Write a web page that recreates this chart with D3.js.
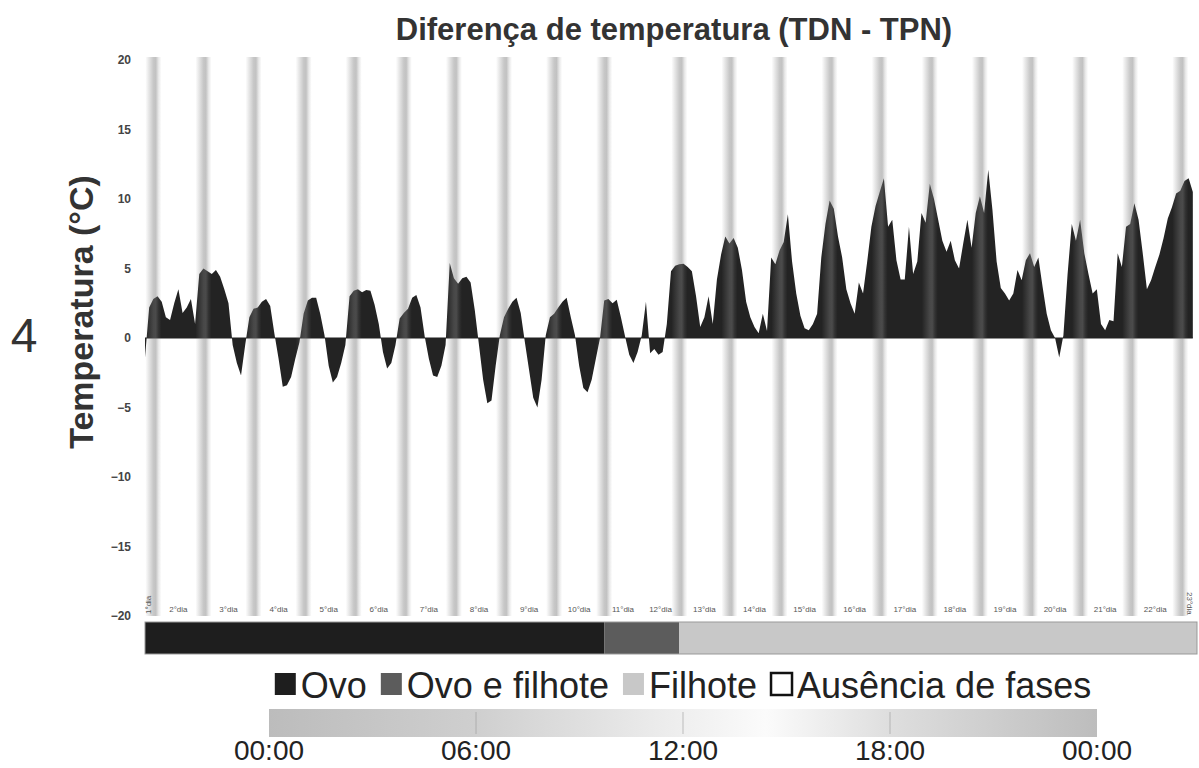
<!DOCTYPE html>
<html><head><meta charset="utf-8">
<script src="https://cdn.jsdelivr.net/npm/d3@7"></script>
<style>body{margin:0;background:#fff;} svg{display:block;font-family:"Liberation Sans",Arial,sans-serif;}</style>
</head><body><svg id="c" width="1199" height="768"></svg>
<script>
const title = "Diferença de temperatura (TDN - TPN)";
const yLabel = "Temperatura (°C)";
const panelLabel = "4";
const yTicks = [20, 15, 10, 5, 0, -5, -10, -15, -20];
const totalHours = 504;
const stepHours = 2;
// TDN - TPN (°C), one reading every 2 h from t = 0 h
const diff = [
 -1.4, 2.2, 2.8, 3.0, 2.6, 1.5, 1.3, 2.5, 3.5, 1.8, 2.2, 2.8,
  1.0, 4.6, 5.0, 4.8, 4.6, 4.9, 4.4, 3.5, 2.5, -0.5, -1.8, -2.7,
 -0.5, 1.5, 2.1, 2.2, 2.6, 2.8, 2.3, 0.3, -1.5, -3.5, -3.4, -2.8,
 -1.5, -0.3, 1.75, 2.7, 2.9, 2.9, 1.7, 0.2, -2.0, -3.2, -2.8, -1.8,
 -0.5, 3.0, 3.4, 3.5, 3.3, 3.45, 3.4, 2.4, 1.0, -1.0, -2.2, -1.8,
 -0.5, 1.4, 1.8, 2.1, 2.9, 3.1, 2.2, 0.1, -1.5, -2.7, -2.8, -2.0,
 -0.5, 5.4, 4.3, 3.9, 4.3, 4.4, 4.0, 2.0, -0.5, -3.0, -4.7, -4.5,
 -2.0, 0.2, 1.5, 2.1, 2.6, 2.9, 1.8, -0.3, -2.3, -4.3, -5.0, -3.0,
  0.2, 1.5, 1.75, 2.2, 2.6, 2.9, 1.5, 0.2, -2.0, -3.6, -3.9, -3.0,
 -1.5, 0.0, 2.7, 2.8, 2.5, 2.75, 1.5, 0.1, -1.2, -1.8, -1.0, 0.2,
  2.6, -1.1, -0.8, -1.2, -1.0, 1.0, 4.8, 5.2, 5.3, 5.35, 5.1, 4.8,
  3.0, 0.8, 1.5, 3.0, 1.0, 4.2, 6.0, 7.3, 6.8, 7.2, 6.5, 4.9,
  2.6, 1.5, 0.8, 0.35, 1.75, 0.5, 5.8, 5.3, 6.3, 6.9, 8.9, 5.5,
  3.2, 1.6, 0.7, 0.55, 1.0, 1.75, 5.8, 8.2, 9.9, 9.3, 7.3, 5.8,
  3.5, 2.5, 1.75, 4.0, 3.2, 5.5, 8.0, 9.5, 10.5, 11.5, 8.0, 8.5,
  5.6, 4.2, 4.2, 8.0, 4.6, 5.5, 9.0, 8.3, 11.1, 10.0, 8.5, 7.0,
  6.2, 7.0, 5.6, 5.0, 6.8, 8.5, 6.5, 9.0, 10.2, 9.0, 12.1, 9.2,
  5.5, 3.6, 3.2, 2.7, 3.2, 4.9, 4.15, 5.6, 6.1, 5.1, 5.8, 3.7,
  1.75, 0.55, 0.0, -1.4, 0.2, 4.6, 8.2, 7.0, 8.5, 6.1, 4.6, 3.2,
  3.5, 1.0, 0.55, 1.3, 1.2, 6.1, 5.1, 8.0, 8.2, 9.7, 8.5, 6.1,
  3.5, 4.15, 5.1, 6.0, 7.2, 8.6, 9.4, 10.4, 10.6, 11.3, 11.5, 10.5
];
// midnight marks (h)
const midnights = [4, 28, 52, 76, 100, 124, 148, 172, 196, 220, 256, 280, 304, 328, 352, 376, 400, 424, 448, 472, 496];
const dayNames = ["1°dia","2°dia","3°dia","4°dia","5°dia","6°dia","7°dia","8°dia","9°dia","10°dia","11°dia","12°dia",
  "13°dia","14°dia","15°dia","16°dia","17°dia","18°dia","19°dia","20°dia","21°dia","22°dia","23°dia"];
const dayBounds = [0, 4, 28, 52, 76, 100, 124, 148, 172, 196, 220, 238, 256, 280, 304, 328, 352, 376, 400, 424, 448, 472, 496, 504];
const phaseNames = ["Ovo", "Ovo e filhote", "Filhote"];
const phaseBounds = [0, 220, 256, 504];
const legendNames = ["Ovo", "Ovo e filhote", "Filhote", "Ausência de fases"];
const legendColors = ["#1e1e1e", "#5c5c5c", "#c8c8c8", "#ffffff"];
const timeLabels = ["00:00", "06:00", "12:00", "18:00", "00:00"];
const timeHours = [0, 6, 12, 18, 24];

const svg = d3.select("#c");
const x = d3.scaleLinear().domain([0, totalHours]).range([145, 1197]);
const y = d3.scaleLinear().domain([-20, 20]).range([616, 60]);

const defs = svg.append("defs");
const bg = defs.append("linearGradient").attr("id", "band").attr("x1", "0").attr("x2", "1").attr("y1", "0").attr("y2", "0");
[[0, 0], [0.2, 0.17], [0.5, 0.42], [0.65, 0.46], [0.82, 0.18], [1, 0]].forEach(([o, a]) =>
  bg.append("stop").attr("offset", o).attr("stop-color", "#7a7a7a").attr("stop-opacity", a));

// title
svg.append("text").attr("x", 674).attr("y", 40).attr("text-anchor", "middle")
  .attr("font-size", 31).attr("font-weight", "bold").attr("fill", "#333").text(title);
svg.append("text").attr("x", 24).attr("y", 352).attr("text-anchor", "middle")
  .attr("font-size", 48).attr("fill", "#333").text(panelLabel);
svg.append("text").attr("transform", "translate(93,312) rotate(-90)").attr("text-anchor", "middle")
  .attr("font-size", 34).attr("font-weight", "bold").attr("fill", "#333").text(yLabel);

// area
const area = d3.area().x((d, i) => x(i * stepHours)).y0(y(0)).y1(d => y(d));
svg.append("path").datum(diff).attr("d", area).attr("fill", "#232323");
svg.append("line").attr("x1", x(0)).attr("x2", x((diff.length - 1) * stepHours))
  .attr("y1", y(0)).attr("y2", y(0)).attr("stroke", "#222").attr("stroke-width", 1.2);

// night bands
svg.append("g").selectAll("rect").data(midnights).join("rect")
  .attr("x", d => x(d) - 8).attr("width", 16).attr("y", 57).attr("height", 616 - 57)
  .attr("fill", "url(#band)");

// y axis
const ya = svg.append("g").attr("transform", "translate(145,0)")
  .call(d3.axisLeft(y).tickValues(yTicks).tickSize(0).tickPadding(14));
ya.select(".domain").remove();
ya.selectAll("text").attr("font-size", 12).attr("font-weight", "bold").attr("fill", "#444")
  .attr("font-family", "'Liberation Sans',Arial,sans-serif");

// day labels
const dl = svg.append("g").attr("font-size", 8).attr("fill", "#555");
dayNames.forEach((name, i) => {
  const cx = x((dayBounds[i] + dayBounds[i + 1]) / 2);
  if (i === 0) {
    dl.append("text").attr("transform", `translate(${x(dayBounds[0]) + 6},614) rotate(-90)`).text(name);
  } else if (i === dayNames.length - 1) {
    dl.append("text").attr("transform", `translate(${x(dayBounds[i + 1]) - 10},592) rotate(90)`).text(name);
  } else {
    dl.append("text").attr("x", cx).attr("y", 612).attr("text-anchor", "middle").text(name);
  }
});

// phase bar
const pc = ["#1e1e1e", "#5c5c5c", "#c8c8c8"];
svg.append("g").selectAll("rect").data(phaseNames).join("rect")
  .attr("x", (d, i) => x(phaseBounds[i])).attr("width", (d, i) => x(phaseBounds[i + 1]) - x(phaseBounds[i]))
  .attr("y", 622).attr("height", 32).attr("fill", (d, i) => pc[i]);
svg.append("rect").attr("x", x(0)).attr("y", 622).attr("width", x(totalHours) - x(0)).attr("height", 32)
  .attr("fill", "none").attr("stroke", "#999").attr("stroke-width", 1);

// legend
const lg = svg.append("g").attr("font-size", 36).attr("fill", "#222");
let cursor = 0;
legendNames.forEach((name, i) => {
  const g = lg.append("g");
  g.append("rect").attr("x", cursor).attr("y", 673).attr("width", 21).attr("height", 22)
    .attr("fill", legendColors[i]).attr("stroke", i === 3 ? "#111" : "none").attr("stroke-width", 2.5);
  const t = g.append("text").attr("x", cursor + 26).attr("y", 698).text(name);
  cursor += 26 + t.node().getComputedTextLength() + 14;
});
const total = cursor - 14;
lg.attr("transform", `translate(${683 - total / 2},0)`);

// time gradient
const tx = d3.scaleLinear().domain([0, 24]).range([269, 1097]);
const tg = defs.append("linearGradient").attr("id", "tg");
[[0, "#bcbcbc"], [0.25, "#cfcfcf"], [0.5, "#efefef"], [0.6, "#fbfbfb"], [0.75, "#dedede"], [1, "#bdbdbd"]]
  .forEach(([o, c]) => tg.append("stop").attr("offset", o).attr("stop-color", c));
svg.append("rect").attr("x", tx(0)).attr("y", 709).attr("width", tx(24) - tx(0)).attr("height", 28).attr("fill", "url(#tg)");
svg.append("g").selectAll("line").data([6, 12, 18]).join("line")
  .attr("x1", d => tx(d)).attr("x2", d => tx(d)).attr("y1", 712).attr("y2", 734)
  .attr("stroke", "#9a9a9a").attr("stroke-width", 1).attr("opacity", 0.6);
svg.append("g").selectAll("text").data(timeLabels).join("text")
  .attr("x", (d, i) => tx(timeHours[i])).attr("y", 760).attr("text-anchor", "middle")
  .attr("font-size", 28).attr("fill", "#222").text(d => d);
</script></body></html>
